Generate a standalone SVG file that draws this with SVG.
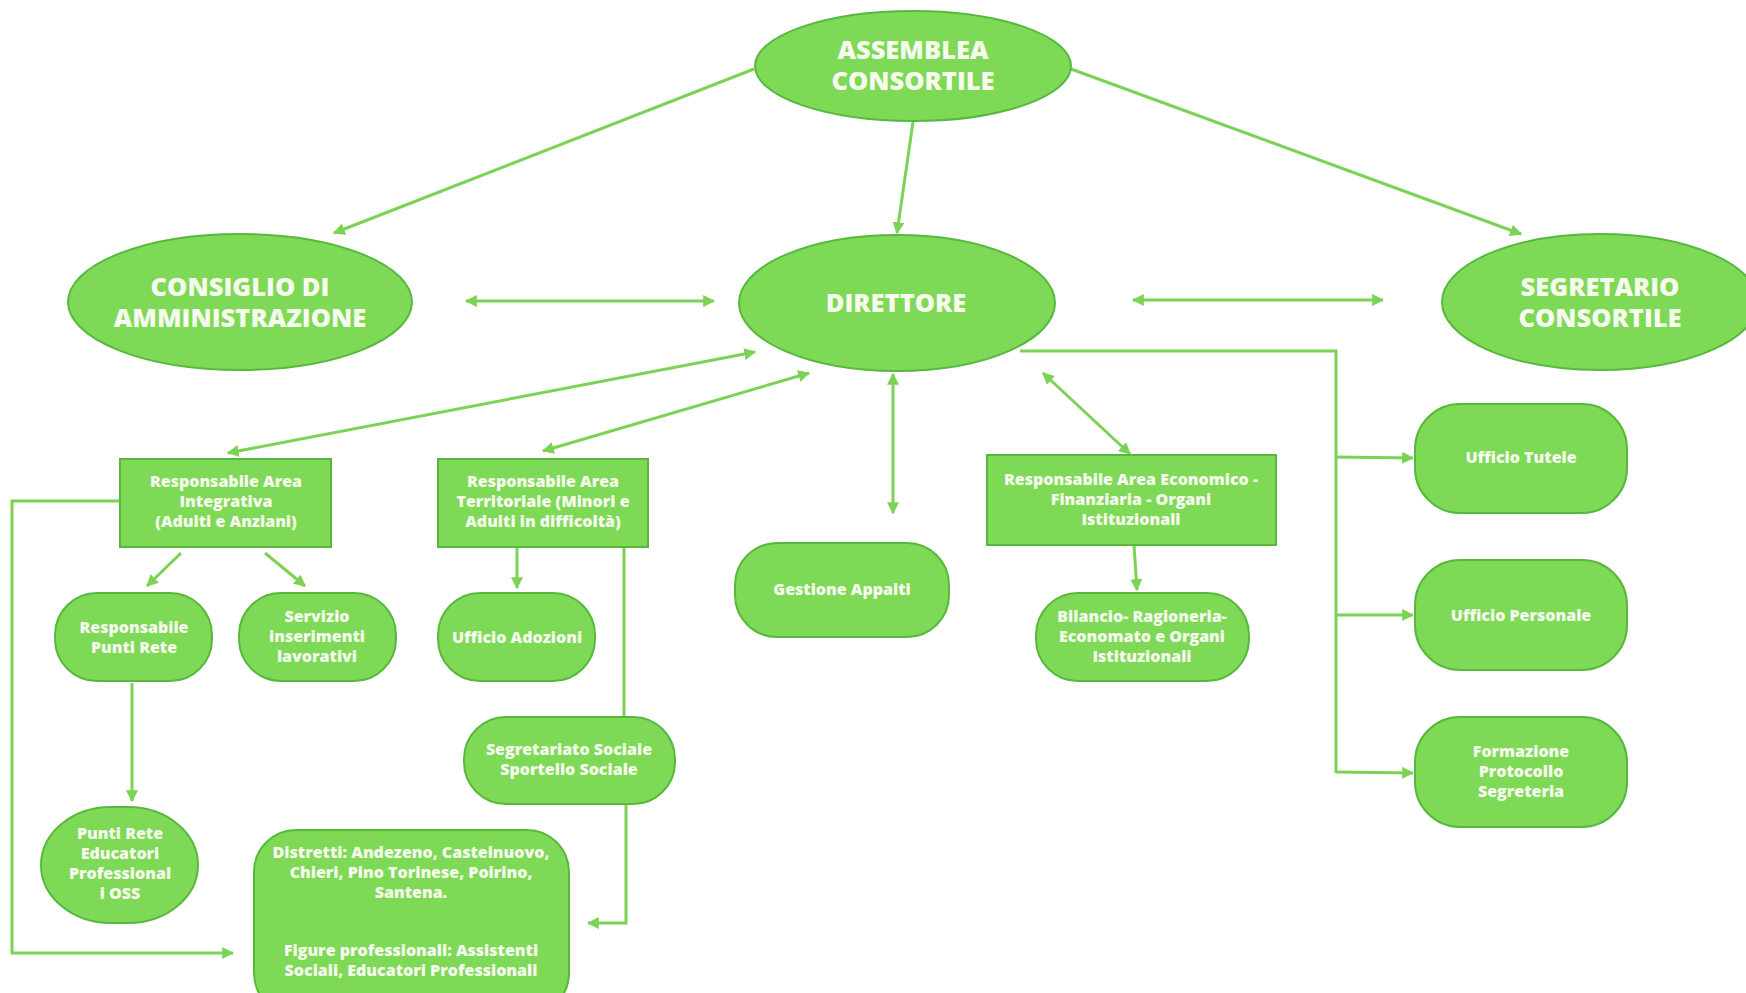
<svg xmlns="http://www.w3.org/2000/svg" width="1746" height="993" viewBox="0 0 1746 993">
<defs>
<marker id="ah" viewBox="0 0 10 10" refX="9" refY="5" markerWidth="4" markerHeight="4" orient="auto-start-reverse" markerUnits="strokeWidth">
<path d="M0,0 L10,5 L0,10 z" fill="#7bd255"/>
</marker>
<style>
.n{fill:#7ed957;stroke:#58b83e;stroke-width:2}
.t1{font-family:"Open Sans","Liberation Sans",sans-serif;font-weight:800;font-size:25.5px;fill:#f6fbee;text-anchor:middle}
.t2{font-family:"Open Sans","Liberation Sans",sans-serif;font-weight:800;font-size:16px;fill:#f6fbee;text-anchor:middle}
.c{fill:none;stroke:#7bd255;stroke-width:3}
.a{marker-end:url(#ah)}
.b{marker-start:url(#ah);marker-end:url(#ah)}
</style>
</defs>
<rect width="1746" height="993" fill="#ffffff"/>
<g id="connectors">
<line class="c a" x1="754" y1="69" x2="334" y2="233"/>
<line class="c a" x1="913" y1="122" x2="897" y2="233"/>
<line class="c a" x1="1071" y1="69" x2="1521" y2="234"/>
<line class="c b" x1="466" y1="301" x2="714" y2="301"/>
<line class="c b" x1="1133" y1="300" x2="1383" y2="300"/>
<line class="c b" x1="755" y1="352" x2="228" y2="453"/>
<line class="c b" x1="809" y1="373" x2="543" y2="451"/>
<line class="c b" x1="893" y1="374" x2="893" y2="513"/>
<line class="c b" x1="1043" y1="373" x2="1130" y2="454"/>
<polyline class="c" points="1020,351 1336,351 1336,773"/>
<line class="c a" x1="1336" y1="457" x2="1413" y2="458"/>
<line class="c a" x1="1336" y1="615" x2="1413" y2="615"/>
<line class="c a" x1="1336" y1="772" x2="1413" y2="773"/>
<line class="c a" x1="181" y1="553" x2="147" y2="586"/>
<line class="c a" x1="265" y1="553" x2="305" y2="586"/>
<polyline class="c a" points="120,501 12,501 12,953 233,953"/>
<line class="c a" x1="132" y1="683" x2="132" y2="801"/>
<line class="c a" x1="517" y1="547" x2="517" y2="588"/>
<line class="c" x1="624" y1="547" x2="624" y2="717"/>
<polyline class="c a" points="626,804 626,923 588,923"/>
<line class="c a" x1="1134" y1="545" x2="1137" y2="590"/>
</g>
<g id="assemblea"><ellipse class="n" cx="913" cy="66" rx="158" ry="55"/><text class="t1" x="913" y="59">ASSEMBLEA</text><text class="t1" x="913" y="90">CONSORTILE</text></g>
<g id="consiglio"><ellipse class="n" cx="240" cy="302" rx="172" ry="68"/><text class="t1" x="240" y="296">CONSIGLIO DI</text><text class="t1" x="240" y="327">AMMINISTRAZIONE</text></g>
<g id="direttore"><ellipse class="n" cx="897" cy="303" rx="158" ry="68"/><text class="t1" x="896" y="312">DIRETTORE</text></g>
<g id="segretario"><ellipse class="n" cx="1600" cy="302" rx="158" ry="68"/><text class="t1" x="1600" y="296">SEGRETARIO</text><text class="t1" x="1600" y="327">CONSORTILE</text></g>
<g id="resp-integrativa"><rect class="n" x="120" y="459" width="211" height="88"/><text class="t2" x="226" y="487">Responsabile Area</text><text class="t2" x="226" y="507">Integrativa</text><text class="t2" x="226" y="527">(Adulti e Anziani)</text></g>
<g id="resp-territoriale"><rect class="n" x="438" y="459" width="210" height="88"/><text class="t2" x="543" y="487">Responsabile Area</text><text class="t2" x="543" y="507">Territoriale (Minori e</text><text class="t2" x="543" y="527">Adulti in difficoltà)</text></g>
<g id="resp-economico"><rect class="n" x="987" y="455" width="289" height="90"/><text class="t2" x="1131" y="485">Responsabile Area Economico -</text><text class="t2" x="1131" y="505">Finanziaria - Organi</text><text class="t2" x="1131" y="525">Istituzionali</text></g>
<g id="gestione-appalti"><rect class="n" x="735" y="543" width="214" height="94" rx="42"/><text class="t2" x="842" y="595">Gestione Appalti</text></g>
<g id="resp-punti-rete"><rect class="n" x="55" y="593" width="157" height="88" rx="42"/><text class="t2" x="134" y="633">Responsabile</text><text class="t2" x="134" y="653">Punti Rete</text></g>
<g id="servizio-inserimenti"><rect class="n" x="239" y="593" width="157" height="88" rx="42"/><text class="t2" x="317" y="622">Servizio</text><text class="t2" x="317" y="642">inserimenti</text><text class="t2" x="317" y="662">lavorativi</text></g>
<g id="ufficio-adozioni"><rect class="n" x="438" y="593" width="157" height="88" rx="42"/><text class="t2" x="517" y="643">Ufficio Adozioni</text></g>
<g id="bilancio"><rect class="n" x="1036" y="593" width="213" height="88" rx="42"/><text class="t2" x="1142" y="622">Bilancio- Ragioneria-</text><text class="t2" x="1142" y="642">Economato e Organi</text><text class="t2" x="1142" y="662">Istituzionali</text></g>
<g id="segretariato-sociale"><rect class="n" x="464" y="717" width="211" height="87" rx="42"/><text class="t2" x="569" y="755">Segretariato Sociale</text><text class="t2" x="569" y="775">Sportello Sociale</text></g>
<g id="punti-rete"><rect class="n" x="41" y="807" width="157" height="116" rx="70" ry="58"/><text class="t2" x="120" y="839">Punti Rete</text><text class="t2" x="120" y="859">Educatori</text><text class="t2" x="120" y="879">Professional</text><text class="t2" x="120" y="899">i OSS</text></g>
<g id="distretti"><rect class="n" x="254" y="830" width="315" height="185" rx="42"/><text class="t2" x="411" y="858">Distretti: Andezeno, Castelnuovo,</text><text class="t2" x="411" y="878">Chieri, Pino Torinese, Poirino,</text><text class="t2" x="411" y="898">Santena.</text><text class="t2" x="411" y="956">Figure professionali: Assistenti</text><text class="t2" x="411" y="976">Sociali, Educatori Professionali</text></g>
<g id="ufficio-tutele"><rect class="n" x="1415" y="404" width="212" height="109" rx="45"/><text class="t2" x="1521" y="463">Ufficio Tutele</text></g>
<g id="ufficio-personale"><rect class="n" x="1415" y="560" width="212" height="110" rx="45"/><text class="t2" x="1521" y="621">Ufficio Personale</text></g>
<g id="formazione"><rect class="n" x="1415" y="717" width="212" height="110" rx="45"/><text class="t2" x="1521" y="757">Formazione</text><text class="t2" x="1521" y="777">Protocollo</text><text class="t2" x="1521" y="797">Segreteria</text></g>
</svg>
